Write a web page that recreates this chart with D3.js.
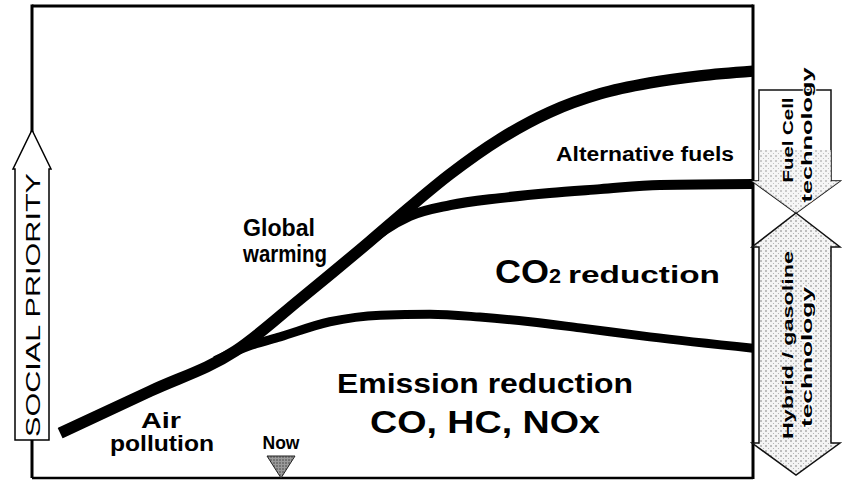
<!DOCTYPE html>
<html>
<head>
<meta charset="utf-8">
<script src="https://cdn.jsdelivr.net/npm/d3@7"></script>
<style>
  body { margin: 0; background: #fff; }
  text { font-family: "Liberation Sans", Arial, Helvetica, sans-serif; font-weight: bold; fill: #000; }
</style>
</head>
<body>
<svg width="843" height="485"></svg>
<script>
// curves, in % of the frame (x = time, y = social priority)
var upperX = [3.9, 16.4, 28.2, 37.2, 46.9, 52.4, 58.0, 64.9, 71.8, 78.8, 85.7, 92.6, 100];
var upperY = [9.5, 18.4, 26.9, 37.9, 50.2, 57.4, 64.4, 71.8, 77.5, 81.4, 83.7, 85.2, 86.2];

var middleX = [46.9, 49.0, 52.4, 58.0, 64.9, 71.8, 78.8, 87.1, 100];
var middleY = [50.2, 52.6, 55.5, 57.8, 59.3, 60.4, 61.2, 62.1, 62.3];

var lowerX = [25.4, 30.2, 34.4, 41.3, 48.3, 55.2, 62.1, 69.1, 76.0, 85.7, 100];
var lowerY = [24.9, 28.0, 29.9, 33.1, 34.5, 34.7, 34.1, 33.1, 31.8, 29.9, 27.5];

var leftLabel = "SOCIAL PRIORITY";
var fuelLabel = ["Fuel Cell", "technology"];
var hybridLabel = ["Hybrid / gasoline", "technology"];

var frame = {left: 32, right: 753, top: 6, bottom: 478};

var svg = d3.select("svg");

var x = d3.scaleLinear().domain([0, 100]).range([frame.left, frame.right]);
var y = d3.scaleLinear().domain([0, 100]).range([frame.bottom, frame.top]);

// halftone fill for the grey arrows
var defs = svg.append("defs");
var dots = defs.append("pattern")
    .attr("id", "dots")
    .attr("patternUnits", "userSpaceOnUse")
    .attr("width", 5).attr("height", 5);
dots.append("rect").attr("width", 5).attr("height", 5).attr("fill", "#f4f4f4");
dots.append("circle").attr("cx", 1).attr("cy", 1).attr("r", 0.8).attr("fill", "#777");
dots.append("circle").attr("cx", 3.5).attr("cy", 3.5).attr("r", 0.6).attr("fill", "#aaa");

var dark = defs.append("pattern")
    .attr("id", "darkdots")
    .attr("patternUnits", "userSpaceOnUse")
    .attr("width", 3).attr("height", 3);
dark.append("rect").attr("width", 3).attr("height", 3).attr("fill", "#9a9a9a");
dark.append("circle").attr("cx", 1).attr("cy", 1).attr("r", 0.8).attr("fill", "#444");

// frame
svg.append("line").attr("x1", frame.left).attr("y1", frame.top).attr("x2", frame.right).attr("y2", frame.top)
    .attr("stroke", "#000").attr("stroke-width", 3);
svg.append("line").attr("x1", frame.left).attr("y1", frame.top - 1.5).attr("x2", frame.left).attr("y2", frame.bottom)
    .attr("stroke", "#000").attr("stroke-width", 3);
svg.append("line").attr("x1", frame.left).attr("y1", frame.bottom).attr("x2", frame.right).attr("y2", frame.bottom)
    .attr("stroke", "#000").attr("stroke-width", 2.5);
svg.append("line").attr("x1", frame.right).attr("y1", frame.top - 1.5).attr("x2", frame.right).attr("y2", frame.bottom + 1)
    .attr("stroke", "#000").attr("stroke-width", 3);

// curves
var line = d3.line()
    .x(function(d) { return x(d[0]); })
    .y(function(d) { return y(d[1]); })
    .curve(d3.curveMonotoneX);

svg.append("path").datum(d3.zip(upperX, upperY))
    .attr("d", line).attr("fill", "none").attr("stroke", "#000").attr("stroke-width", 11.5);
svg.append("path").datum(d3.zip(lowerX, lowerY))
    .attr("d", line).attr("fill", "none").attr("stroke", "#000").attr("stroke-width", 9);
svg.append("path").datum(d3.zip(middleX, middleY))
    .attr("d", line).attr("fill", "none").attr("stroke", "#000").attr("stroke-width", 10);

// social priority arrow on the left edge
var ax = frame.left, aw = 17;
svg.append("path")
    .attr("d", "M" + ax + ",130 L" + (ax + aw + 2) + ",169 L" + (ax + aw) + ",169 L" + (ax + aw) + ",440 L" + (ax - aw) + ",440 L" + (ax - aw) + ",169 L" + (ax - aw - 2) + ",169 Z")
    .attr("fill", "#fff").attr("stroke", "#000").attr("stroke-width", 1.5);
svg.append("text")
    .attr("transform", "translate(" + (ax + 7.5) + ",305) rotate(-90)")
    .attr("text-anchor", "middle")
    .style("font-weight", "normal")
    .style("font-size", "21px")
    .attr("textLength", 264).attr("lengthAdjust", "spacingAndGlyphs")
    .text(leftLabel);

// technology arrows on the right edge
var cx = 796;
function arrowPath(top, bottom, headUp, headDown) {
    var s1 = 759, s2 = 831, h1 = 752, h2 = 840, p = [];
    if (headUp) {
        p.push([cx, top], [h2, top + 34], [s2, top + 34]);
    } else {
        p.push([s2, top]);
    }
    if (headDown) {
        p.push([s2, bottom - 32], [h2, bottom - 32], [cx, bottom], [h1, bottom - 32], [s1, bottom - 32]);
    } else {
        p.push([s2, bottom], [s1, bottom]);
    }
    if (headUp) {
        p.push([s1, top + 34], [h1, top + 34]);
    } else {
        p.push([s1, top]);
    }
    return "M" + p.join("L") + "Z";
}

svg.append("path").attr("d", arrowPath(90, 213, false, true))
    .attr("fill", "#fff").attr("stroke", "#111").attr("stroke-width", 1.5);
svg.append("path").attr("d", "M" + [[759, 150], [831, 150], [831, 181], [840, 181], [cx, 213], [752, 181], [759, 181]].join("L") + "Z")
    .attr("fill", "url(#dots)").attr("opacity", 0.8);
svg.append("path").attr("d", arrowPath(213, 475, true, true))
    .attr("fill", "url(#dots)").attr("stroke", "#111").attr("stroke-width", 1.5);

function sideText(lines, cy, lens, cyOffsets) {
    lines.forEach(function(t, i) {
        svg.append("text")
            .attr("transform", "translate(" + (793 + i * 19) + "," + (cy + cyOffsets[i]) + ") rotate(-90)")
            .attr("text-anchor", "middle")
            .style("font-size", "15px")
            .style("paint-order", "stroke")
            .style("stroke", i === 1 ? "#fff" : "none")
            .style("stroke-width", 2)
            .attr("textLength", lens[i]).attr("lengthAdjust", "spacingAndGlyphs")
            .text(t);
    });
}
sideText(fuelLabel, 140, [85, 135], [0, -5]);
sideText(hybridLabel, 345, [188, 140], [0, 12]);

// "Now" marker
var nowX = 281;
svg.append("path")
    .attr("d", "M" + (nowX - 14) + "," + (frame.bottom - 22) + "L" + (nowX + 14) + "," + (frame.bottom - 22) + "L" + nowX + "," + frame.bottom + "Z")
    .attr("fill", "url(#darkdots)").attr("stroke", "#222").attr("stroke-width", 1);

// labels
function label(t, px, py, size, len, anchor) {
    return svg.append("text")
        .attr("x", px).attr("y", py)
        .attr("text-anchor", anchor || "start")
        .style("font-size", size + "px")
        .attr("textLength", len).attr("lengthAdjust", "spacingAndGlyphs")
        .text(t);
}
label("Air", 161, 428, 22, 40, "middle");
label("pollution", 162, 451, 22, 104, "middle");
label("Global", 243, 236, 23, 72);
label("warming", 243, 262, 23, 84);
label("Alternative fuels", 556, 161, 20, 178);
label("CO", 495, 283, 33, 54);
label("2", 549, 283, 20, 12);
label("reduction", 568, 283, 23, 152);
label("Emission reduction", 337, 393, 27, 296);
label("CO, HC, NOx", 370, 433, 32, 230);
label("Now", nowX, 449, 19, 37, "middle");
</script>
</body>
</html>
